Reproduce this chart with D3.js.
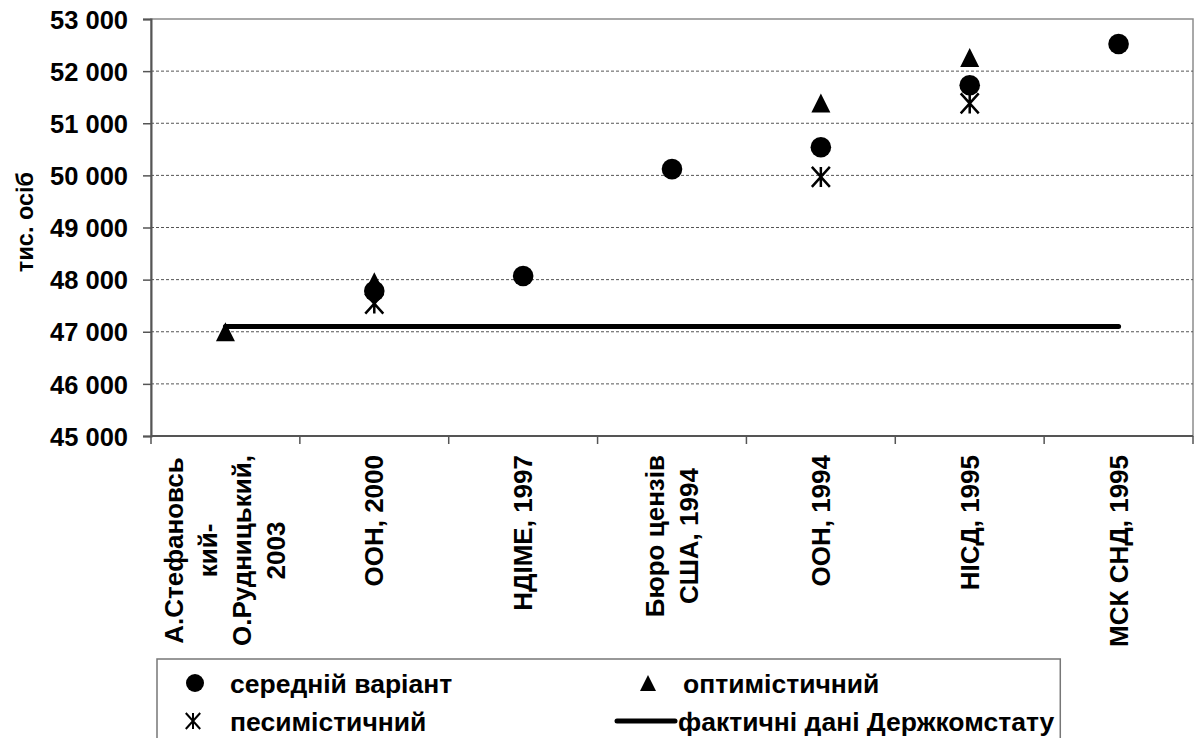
<!DOCTYPE html>
<html>
<head>
<meta charset="utf-8">
<script src="https://cdn.jsdelivr.net/npm/d3@7"></script>
<style>
  html, body { margin: 0; padding: 0; background: #fff; }
  svg { display: block; }
  text { font-family: "Liberation Sans", Arial, sans-serif; font-weight: bold; fill: #000; }
</style>
</head>
<body>
<svg id="chart" width="1194" height="738"></svg>
<script>
// ---------- data ----------
const categories = [
  "А.Стефановсь\nкий-\nО.Рудницький,\n2003",
  "ООН, 2000",
  "НДІМЕ, 1997",
  "Бюро цензів\nСША, 1994",
  "ООН, 1994",
  "НІСД, 1995",
  "МСК СНД, 1995"
];
const medium      = [null, 47780, 48070, 50120, 50540, 51730, 52520];
const optimistic  = [47000, 47960, null, null, 51390, 52260, null];
const pessimistic = [null, 47540, null, null, 49970, 51380, null];
const actual      = [47100, 47100, 47100, 47100, 47100, 47100, 47100];
const yTicks = [45000, 46000, 47000, 48000, 49000, 50000, 51000, 52000, 53000];
const yTitle = "тис. осіб";
const legendLabels = ["середній варіант", "оптимістичний", "песимістичний", "фактичні дані Держкомстату"];

// ---------- layout ----------
const svg = d3.select("#chart");
const plot = { left: 151, right: 1193, top: 19, bottom: 436 };
const x = d3.scaleBand().domain(d3.range(categories.length)).range([plot.left, plot.right]).padding(0);
const y = d3.scaleLinear().domain([45000, 53000]).range([plot.bottom, plot.top]);
const cx = i => x(i) + x.bandwidth() / 2;
const fmt = d3.formatLocale({ thousands: " ", grouping: [3], decimal: ",", currency: ["", ""] }).format(",");

// plot area border
svg.append("rect")
  .attr("x", plot.left).attr("y", plot.top)
  .attr("width", plot.right - plot.left).attr("height", plot.bottom - plot.top)
  .attr("fill", "none").attr("stroke", "#8c8c8c").attr("stroke-width", 1.5);

// gridlines
svg.append("g").selectAll("line").data(yTicks.filter(v => v > 45000 && v < 53000)).join("line")
  .attr("x1", plot.left).attr("x2", plot.right)
  .attr("y1", d => y(d)).attr("y2", d => y(d))
  .attr("stroke", "#555").attr("stroke-width", 1).attr("stroke-dasharray", "3,2");

// y axis
const yAxis = d3.axisLeft(y).tickValues(yTicks).tickSize(8).tickPadding(15).tickFormat(d => fmt(d));
const gy = svg.append("g").attr("transform", `translate(${plot.left},0)`).call(yAxis);
gy.select(".domain").attr("stroke", "#555").attr("stroke-width", 2);
gy.selectAll(".tick line").attr("stroke", "#555").attr("stroke-width", 1.5);
gy.selectAll(".tick text").attr("font-size", "25.5px").attr("font-family", "Liberation Sans, Arial, sans-serif")
  .attr("font-weight", "bold").attr("fill", "#000").attr("dy", "0.36em");

// x axis (ticks at band boundaries)
const xb = d3.range(categories.length + 1).map(i => plot.left + i * x.bandwidth());
svg.append("line").attr("x1", plot.left).attr("x2", plot.right)
  .attr("y1", plot.bottom).attr("y2", plot.bottom).attr("stroke", "#555").attr("stroke-width", 2);
svg.append("g").selectAll("line").data(xb).join("line")
  .attr("x1", d => d).attr("x2", d => d)
  .attr("y1", plot.bottom).attr("y2", plot.bottom + 8)
  .attr("stroke", "#555").attr("stroke-width", 1.5);

// x labels (rotated, multi-line)
const lineGap = 34;
categories.forEach((c, i) => {
  const lines = c.split("\n");
  const g = svg.append("g");
  const texts = lines.map((ln, k) => g.append("text")
    .attr("font-size", "26px").attr("text-anchor", "middle").text(ln));
  const maxW = d3.max(texts, t => t.node().getComputedTextLength());
  const yc = 455 + maxW / 2;
  const n = lines.length;
  texts.forEach((t, k) => {
    const xc = cx(i) + (k - (n - 1) / 2) * lineGap + 9;
    t.attr("transform", `translate(${xc},${yc}) rotate(-90)`);
  });
});

// y title
svg.append("text").attr("font-size", "23.5px").attr("text-anchor", "middle")
  .attr("transform", "translate(33,222) rotate(-90)").text(yTitle);

// ---------- series ----------
const starPath = s => `M${-s*0.9},${-s} L${s*0.9},${s} M${-s*0.9},${s} L${s*0.9},${-s} M0,${-s} L0,${s}`;
const triPath = (w, h) => `M0,${-h/2} L${w/2},${h/2} L${-w/2},${h/2} Z`;

// actual line
const lineGen = d3.line().x((d, i) => cx(i)).y(d => y(d));
svg.append("path").datum(actual).attr("d", lineGen)
  .attr("fill", "none").attr("stroke", "#000").attr("stroke-width", 5).attr("stroke-linecap", "round");

// optimistic triangles
svg.append("g").selectAll("path").data(optimistic.map((v, i) => ({ v, i })).filter(d => d.v != null)).join("path")
  .attr("d", triPath(19, 19))
  .attr("transform", d => `translate(${cx(d.i)},${y(d.v)})`)
  .attr("fill", "#000");

// medium circles
svg.append("g").selectAll("circle").data(medium.map((v, i) => ({ v, i })).filter(d => d.v != null)).join("circle")
  .attr("cx", d => cx(d.i)).attr("cy", d => y(d.v)).attr("r", 10.3).attr("fill", "#000");

// pessimistic stars
svg.append("g").selectAll("path").data(pessimistic.map((v, i) => ({ v, i })).filter(d => d.v != null)).join("path")
  .attr("d", starPath(10))
  .attr("transform", d => `translate(${cx(d.i)},${y(d.v)})`)
  .attr("fill", "none").attr("stroke", "#000").attr("stroke-width", 2.5);

// ---------- legend ----------
const lg = svg.append("g");
const r1 = 683, r2 = 721, lfs = "26.5px";
const t4 = lg.append("text").attr("x", 678).attr("y", r2).attr("dy", "0.36em").attr("font-size", lfs).text(legendLabels[3]);
const boxRight = 678 + t4.node().getComputedTextLength() + 6;
lg.insert("rect", ":first-child").attr("x", 157).attr("y", 659).attr("width", boxRight - 157).attr("height", 100)
  .attr("fill", "#fff").attr("stroke", "#777").attr("stroke-width", 1.5);
lg.append("circle").attr("cx", 195).attr("cy", r1).attr("r", 9).attr("fill", "#000");
lg.append("text").attr("x", 230).attr("y", r1).attr("dy", "0.36em").attr("font-size", lfs).text(legendLabels[0]);
lg.append("path").attr("d", triPath(16, 16)).attr("transform", `translate(648,${r1})`).attr("fill", "#000");
lg.append("text").attr("x", 683).attr("y", r1).attr("dy", "0.36em").attr("font-size", lfs).text(legendLabels[1]);
lg.append("path").attr("d", starPath(8)).attr("transform", `translate(193,${r2})`)
  .attr("fill", "none").attr("stroke", "#000").attr("stroke-width", 2);
lg.append("text").attr("x", 230).attr("y", r2).attr("dy", "0.36em").attr("font-size", lfs).text(legendLabels[2]);
lg.append("line").attr("x1", 617).attr("x2", 675).attr("y1", r2).attr("y2", r2)
  .attr("stroke", "#000").attr("stroke-width", 5).attr("stroke-linecap", "round");
</script>
</body>
</html>
